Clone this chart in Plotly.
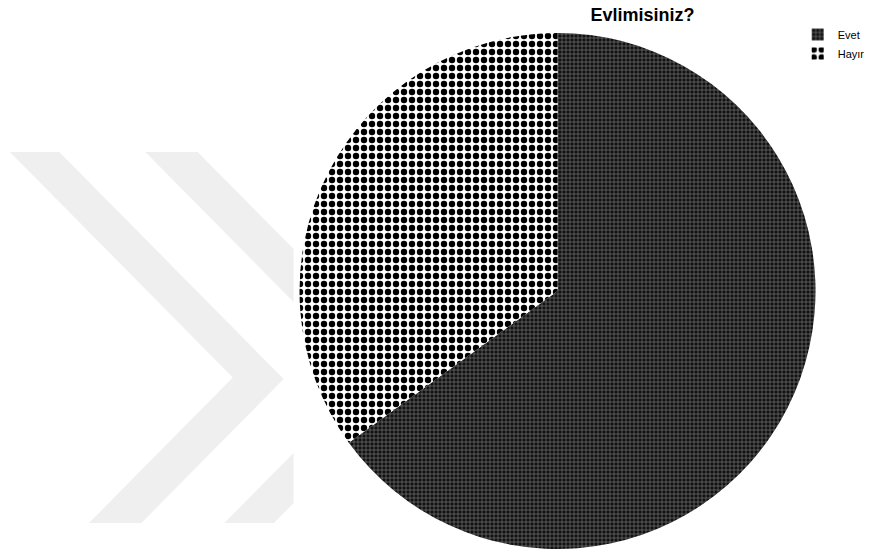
import plotly.graph_objects as go

W, H = 870, 556

# ---- data ----
labels = ["Evet", "Hayır"]
values = [65, 35]
title_text = "Evlimisiniz?"

# ---- styles ----
patterns = [
    dict(shape="+", bgcolor="#111111", fgcolor="#7a7a7a", size=4, solidity=0.3),
    dict(shape=".", bgcolor="#ffffff", fgcolor="#000000", size=8, solidity=0.5),
]

def px(x):
    return x / W

def py(y):
    return 1 - y / H

fig = go.Figure()
fig.add_trace(go.Pie(
    labels=labels,
    values=values,
    sort=False,
    direction="clockwise",
    rotation=0,
    textinfo="none",
    hoverinfo="label+percent",
    marker=dict(colors=["#202020", "#ffffff"], pattern=dict(
        shape=[p["shape"] for p in patterns],
        bgcolor=[p["bgcolor"] for p in patterns],
        fgcolor=[p["fgcolor"] for p in patterns],
        size=[p["size"] for p in patterns],
        solidity=[p["solidity"] for p in patterns],
        fillmode="replace",
    ), line=dict(width=0)),
    domain=dict(x=[px(303), px(825)], y=[py(552), py(30)]),
))

# watermark chevrons (decorative background)
def path(points):
    return "M " + " L ".join(f"{px(x)},{py(y)}" for x, y in points) + " Z"

wm = [
    [(10, 152), (60, 152), (287, 379), (143, 523), (90, 523), (235.5, 377.5)],
    [(147, 152), (200, 152), (297, 249), (297, 302)],
    [(227, 523), (277, 523), (297, 503), (297, 453)],
]
shapes = [dict(type="path", xref="paper", yref="paper", path=path(p),
               fillcolor="#efefef", line=dict(width=0), layer="below") for p in wm]

fig.update_layout(
    width=W, height=H,
    margin=dict(l=0, r=0, t=0, b=0),
    paper_bgcolor="white",
    plot_bgcolor="white",
    font=dict(family="Liberation Sans, Arial, sans-serif", color="black"),
    title=dict(text=title_text, x=px(650), xanchor="center", xref="paper",
               y=py(8), yanchor="top", yref="paper",
               font=dict(size=18, weight="bold", family="Liberation Sans, Arial, sans-serif")),
    legend=dict(x=px(807), xanchor="left", y=py(20), yanchor="top",
                font=dict(size=11), bgcolor="rgba(0,0,0,0)",
                itemwidth=30, tracegroupgap=0, entrywidth=28, entrywidthmode="pixels"),
    shapes=shapes,
)

fig.write_html(
    "out.html", config={"displayModeBar": False},
    post_script=("document.body.style.margin='0';"
                 "document.body.style.overflow='hidden';"
                 "document.documentElement.style.overflow='hidden';"),
)
